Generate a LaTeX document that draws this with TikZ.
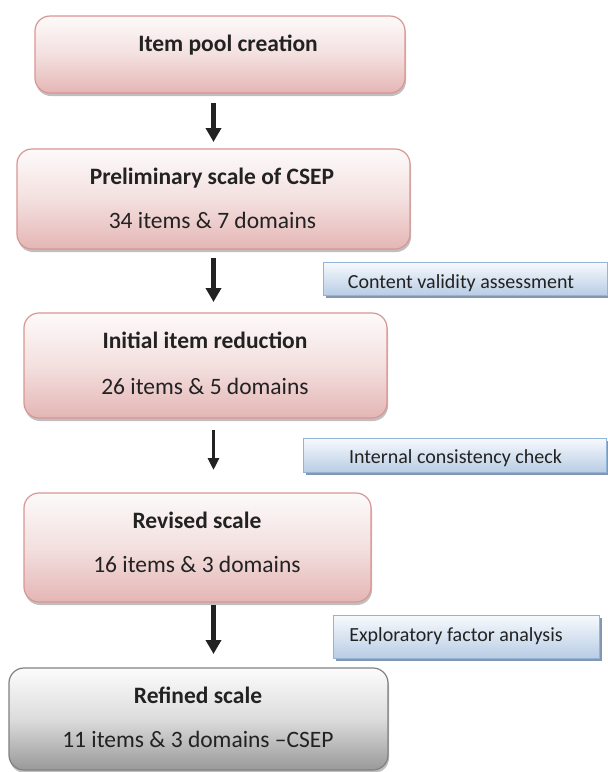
\documentclass[tikz,border=0pt]{standalone}
\usepackage{fontspec}
\setmainfont{Carlito}
\usetikzlibrary{arrows.meta,shadows}
\definecolor{pinktop}{HTML}{FDFAFA}
\definecolor{pinkmid}{HTML}{F3E0DF}
\definecolor{pinkbot}{HTML}{E4B6B5}
\definecolor{pinkline}{HTML}{D99694}
\definecolor{graytop}{HTML}{FCFCFC}
\definecolor{graymid}{HTML}{DCDCDC}
\definecolor{graybot}{HTML}{999999}
\definecolor{grayline}{HTML}{808080}
\definecolor{bluetop}{HTML}{F7FAFD}
\definecolor{bluebot}{HTML}{B9CDE5}
\definecolor{blueline}{HTML}{95B3D7}
\definecolor{blueshadow}{HTML}{8496B0}
\definecolor{txt}{HTML}{222222}
\begin{document}
\begin{tikzpicture}[x=1pt,y=-1pt,
  stagebox/.style={draw=pinkline, line width=1.2pt, rounded corners=15pt,
    top color=pinktop, bottom color=pinkbot, middle color=pinkmid,
    inner sep=0pt, outer sep=0pt,
    drop shadow={shadow xshift=1pt, shadow yshift=-3pt, fill=black, opacity=0.25}},
  finalbox/.style={draw=grayline, line width=1.2pt, rounded corners=15pt,
    top color=graytop, bottom color=graybot, middle color=graymid,
    inner sep=0pt, outer sep=0pt,
    drop shadow={shadow xshift=1pt, shadow yshift=-3pt, fill=black, opacity=0.25}},
  notebox/.style={draw=blueline, line width=1pt,
    top color=bluetop, bottom color=bluebot,
    inner sep=0pt, outer sep=0pt,
    drop shadow={shadow xshift=2.5pt, shadow yshift=-3pt, fill=blueshadow, opacity=1}},
  headtxt/.style={anchor=base, inner sep=0pt, text=txt,
    font=\fontsize{23.5}{28}\selectfont\bfseries},
  bodytxt/.style={anchor=base, inner sep=0pt, text=txt,
    font=\fontsize{23.5}{28}\selectfont},
  notetxt/.style={anchor=base, inner sep=0pt, text=txt,
    font=\fontsize{20}{24}\selectfont},
  thickarrow/.style={draw=txt, line width=5pt,
    -{Triangle[width=15pt,length=14pt]}},
  thinarrow/.style={draw=txt, line width=3pt,
    -{Triangle[width=11pt,length=12pt]}}
]
\useasboundingbox[fill=white] (0,0) rectangle (608,772);

% stage boxes
\node[stagebox, minimum width=370pt, minimum height=77pt] (b1) at (220,54.5) {};
\node[stagebox, minimum width=393pt, minimum height=100pt] (b2) at (213.5,199) {};
\node[stagebox, minimum width=363pt, minimum height=105pt] (b3) at (205.5,365.5) {};
\node[stagebox, minimum width=347pt, minimum height=109pt] (b4) at (197.5,547.5) {};
\node[finalbox, minimum width=379pt, minimum height=102pt] (b5) at (198.5,719) {};

% note boxes
\node[notebox, minimum width=284pt, minimum height=33pt] (n1) at (465,278.5) {};
\node[notebox, minimum width=303pt, minimum height=34pt] (n2) at (454.5,455) {};
\node[notebox, minimum width=266pt, minimum height=43pt] (n3) at (466,636.5) {};

% texts
\node[headtxt] (t1) at (228,51) {Item pool creation};
\node[headtxt] (t2a) at (212,184.5) {Preliminary scale of CSEP};
\node[bodytxt] (t2b) at (212.5,228.5) {34 items \& 7 domains};
\node[headtxt] (t3a) at (205,348.5) {Initial item reduction};
\node[bodytxt] (t3b) at (205,394.5) {26 items \& 5 domains};
\node[headtxt] (t4a) at (197,528.5) {Revised scale};
\node[bodytxt] (t4b) at (197,572.5) {16 items \& 3 domains};
\node[headtxt] (t5a) at (198,703.5) {Refined scale};
\node[bodytxt] (t5b) at (198,747.5) {11 items \& 3 domains –CSEP};
\node[notetxt] (m1) at (461,288.5) {Content validity assessment};
\node[notetxt] (m2) at (455.5,463.5) {Internal consistency check};
\node[notetxt] (m3) at (456,641.5) {Exploratory factor analysis};

% arrows
\draw[thickarrow, shorten <=10pt, shorten >=7pt] (b1.south -| b2.north) -- (b2.north);
\draw[thickarrow, shorten <=9pt, shorten >=11pt] (b2.south) -- (b2.south |- b3.north);
\draw[thinarrow, shorten <=12pt, shorten >=23pt] (b2.south |- b3.south) -- (b2.south |- b4.north);
\draw[thickarrow, shorten <=3pt, shorten >=14pt] (b2.south |- b4.south) -- (b2.south |- b5.north);
\end{tikzpicture}
\end{document}
